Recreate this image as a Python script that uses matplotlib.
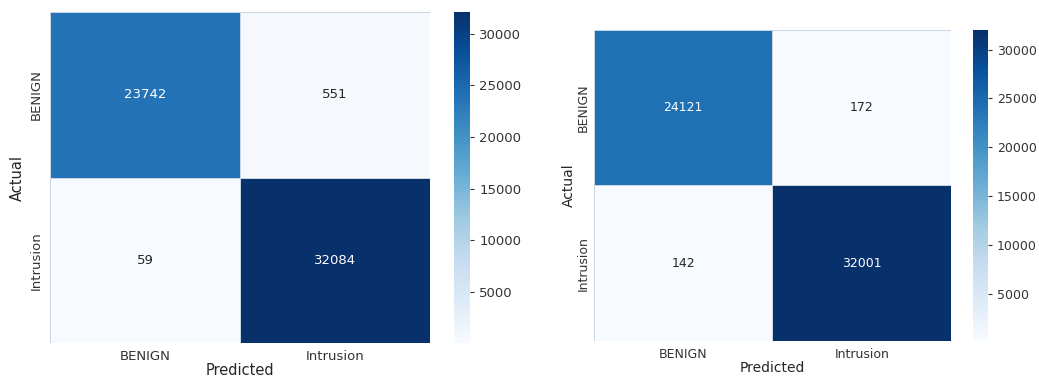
import numpy as np
import matplotlib
matplotlib.use("Agg")
import matplotlib.pyplot as plt
import seaborn as sns

labels = ["BENIGN", "Intrusion"]

# confusion matrices of the two models (rows = actual, cols = predicted)
cm_first = np.array([[23742, 551],
                     [59, 32084]])
cm_second = np.array([[24121, 172],
                      [142, 32001]])

sns.set_style("white")
plt.rcParams['font.family'] = ['DejaVu Sans']

fig = plt.figure(figsize=(10.39, 3.81), dpi=100)

ax1 = fig.add_axes([0.0481, 0.0997, 0.3657, 0.8688])
cax1 = fig.add_axes([0.437, 0.0997, 0.0154, 0.8688])
ax2 = fig.add_axes([0.5717, 0.105, 0.3436, 0.8163])
cax2 = fig.add_axes([0.9365, 0.105, 0.0144, 0.8163])


def draw_cm(ax, cax, cm, fs, ypad, ylpad):
    sns.heatmap(cm, annot=True, fmt="d", cmap="Blues", ax=ax, cbar_ax=cax,
                xticklabels=labels, yticklabels=labels,
                linewidths=0.5, linecolor="#c9d6e6",
                annot_kws={"fontsize": fs})
    ax.set_xlabel("Predicted", fontsize=fs + 1, labelpad=0)
    ax.set_ylabel("Actual", fontsize=fs + 1, labelpad=ylpad)
    ax.tick_params(axis="both", labelsize=fs, colors="#333333", length=0)
    ax.tick_params(axis="x", pad=5)
    ax.tick_params(axis="y", pad=ypad)
    cax.tick_params(labelsize=fs, colors="#333333", length=3, width=0.8)
    cax.set_frame_on(False)


draw_cm(ax1, cax1, cm_first, 9.5, 5, 4)
draw_cm(ax2, cax2, cm_second, 9, 3, 1)

fig.savefig("out.png", dpi=100)
